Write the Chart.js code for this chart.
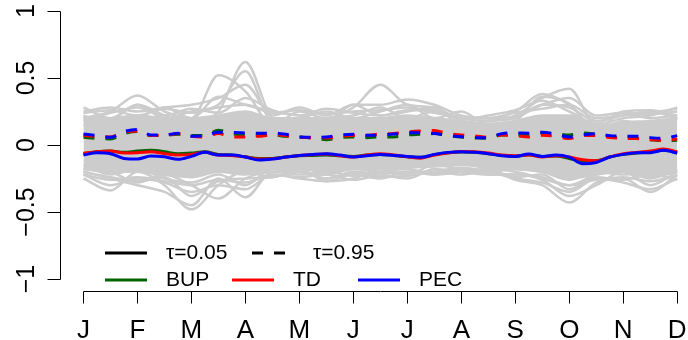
<!DOCTYPE html>
<html>
<head>
<meta charset="utf-8">
<script src="https://cdn.jsdelivr.net/npm/chart.js@4.4.0/dist/chart.umd.min.js"></script>
<style>
  html, body { margin: 0; padding: 0; background: #fff; }
  #wrap { width: 688px; height: 340px; }
</style>
</head>
<body>
<div id="wrap"><canvas id="myChart" width="688" height="340"></canvas></div>
<script>
// month axis
var monthLabels = ['J', 'F', 'M', 'A', 'M', 'J', 'J', 'A', 'S', 'O', 'N', 'D'];
var yTicks = [-1, -0.5, 0, 0.5, 1];
var yTickLabels = ['\u22121', '\u22120.5', '0', '0.5', '1'];

// sample positions (in months from J)
var fineX = [0, 0.25, 0.5, 0.75, 1, 1.25, 1.5, 1.75, 2, 2.25, 2.5, 2.75, 3, 3.25, 3.5, 3.75,
  4, 4.25, 4.5, 4.75, 5, 5.25, 5.5, 5.75, 6, 6.25, 6.5, 6.75, 7, 7.25, 7.5, 7.75,
  8, 8.25, 8.5, 8.75, 9, 9.25, 9.5, 9.75, 10, 10.25, 10.5, 10.75, 11];
var coarseX = [0, 0.5, 1, 1.5, 2, 2.5, 3, 3.5, 4, 4.5, 5, 5.5, 6, 6.5, 7, 7.5, 8, 8.5, 9, 9.5, 10, 10.5, 11];

// quantile curves, tau = 0.05
var bup05 = [-0.065, -0.05, -0.045, -0.055, -0.045, -0.04, -0.05, -0.065, -0.06, -0.05, -0.07, -0.075, -0.088, -0.1, -0.1, -0.09,
  -0.08, -0.078, -0.075, -0.08, -0.085, -0.075, -0.07, -0.078, -0.088, -0.092, -0.072, -0.058, -0.052, -0.055, -0.065, -0.078,
  -0.085, -0.072, -0.085, -0.082, -0.1, -0.12, -0.118, -0.09, -0.07, -0.06, -0.05, -0.04, -0.058];
var td05 = [-0.062, -0.05, -0.045, -0.06, -0.058, -0.05, -0.065, -0.075, -0.07, -0.055, -0.075, -0.078, -0.09, -0.105, -0.102, -0.09,
  -0.078, -0.072, -0.068, -0.08, -0.09, -0.075, -0.065, -0.075, -0.088, -0.098, -0.075, -0.06, -0.048, -0.05, -0.06, -0.075,
  -0.08, -0.075, -0.09, -0.08, -0.09, -0.11, -0.118, -0.09, -0.065, -0.055, -0.045, -0.03, -0.05];
var pec05 = [-0.075, -0.058, -0.065, -0.1, -0.105, -0.082, -0.088, -0.107, -0.085, -0.055, -0.075, -0.075, -0.09, -0.112, -0.105, -0.09,
  -0.078, -0.07, -0.065, -0.075, -0.09, -0.08, -0.07, -0.078, -0.085, -0.092, -0.07, -0.055, -0.05, -0.055, -0.065, -0.08,
  -0.085, -0.068, -0.085, -0.075, -0.09, -0.14, -0.13, -0.09, -0.07, -0.058, -0.057, -0.04, -0.06];

// quantile curves, tau = 0.95
var bup95 = [0.057, 0.05, 0.045, 0.085, 0.1, 0.07, 0.072, 0.08, 0.07, 0.07, 0.11, 0.085, 0.075, 0.07, 0.075, 0.065,
  0.06, 0.05, 0.04, 0.055, 0.06, 0.055, 0.06, 0.06, 0.075, 0.08, 0.085, 0.07, 0.06, 0.055, 0.05, 0.075,
  0.075, 0.08, 0.09, 0.085, 0.075, 0.09, 0.08, 0.065, 0.05, 0.05, 0.04, 0.032, 0.035];
var td95 = [0.07, 0.065, 0.06, 0.095, 0.105, 0.07, 0.07, 0.085, 0.065, 0.06, 0.085, 0.06, 0.06, 0.065, 0.075, 0.07,
  0.058, 0.055, 0.053, 0.065, 0.07, 0.072, 0.082, 0.085, 0.098, 0.105, 0.108, 0.085, 0.075, 0.068, 0.058, 0.075,
  0.07, 0.06, 0.072, 0.065, 0.048, 0.07, 0.07, 0.055, 0.05, 0.048, 0.04, 0.035, 0.045];
var pec95 = [0.082, 0.07, 0.057, 0.1, 0.115, 0.075, 0.075, 0.087, 0.065, 0.07, 0.095, 0.093, 0.09, 0.087, 0.09, 0.08,
  0.06, 0.058, 0.06, 0.075, 0.08, 0.072, 0.075, 0.082, 0.09, 0.092, 0.085, 0.072, 0.062, 0.055, 0.055, 0.085,
  0.09, 0.088, 0.095, 0.08, 0.06, 0.075, 0.085, 0.07, 0.065, 0.065, 0.055, 0.05, 0.07];

// dense core of the observed curves
var coreUpper = [0.2, 0.2, 0.22, 0.2, 0.2, 0.22, 0.25, 0.2, 0.2, 0.2, 0.2, 0.2, 0.22, 0.2, 0.18, 0.16, 0.18, 0.22, 0.22, 0.14, 0.17, 0.18, 0.2];
var coreLower = [-0.18, -0.2, -0.2, -0.22, -0.24, -0.2, -0.22, -0.18, -0.18, -0.2, -0.18, -0.18, -0.17, -0.16, -0.15, -0.17, -0.18, -0.2, -0.25, -0.22, -0.2, -0.24, -0.2];

// outer observed curves
var obsCurves = [
  [0.28, 0.2, 0.3, 0.22, 0.15, 0.25, 0.62, 0.2, 0.15, 0.2, 0.22, 0.28, 0.2, 0.25, 0.2, 0.18, 0.22, 0.35, 0.42, 0.15, 0.2, 0.22, 0.28],
  [0.2, 0.25, 0.37, 0.25, 0.2, 0.52, 0.4, 0.15, 0.25, 0.2, 0.28, 0.45, 0.3, 0.28, 0.2, 0.2, 0.25, 0.38, 0.3, 0.12, 0.24, 0.2, 0.22],
  [0.25, 0.28, 0.25, 0.28, 0.3, 0.35, 0.45, 0.22, 0.28, 0.22, 0.3, 0.3, 0.34, 0.3, 0.22, 0.2, 0.21, 0.3, 0.35, 0.22, 0.24, 0.23, 0.25],
  [0.15, 0.18, 0.3, 0.2, 0.25, 0.3, 0.55, 0.18, 0.2, 0.25, 0.2, 0.25, 0.3, 0.2, 0.25, 0.15, 0.18, 0.36, 0.31, 0.1, 0.18, 0.15, 0.2],
  [0.22, 0.15, 0.2, 0.28, 0.2, 0.36, 0.3, 0.25, 0.22, 0.18, 0.3, 0.22, 0.25, 0.28, 0.15, 0.18, 0.2, 0.3, 0.28, 0.18, 0.22, 0.25, 0.2],
  [0.24, 0.26, 0.22, 0.27, 0.24, 0.28, 0.3, 0.24, 0.26, 0.23, 0.25, 0.26, 0.28, 0.24, 0.21, 0.2, 0.24, 0.27, 0.3, 0.2, 0.22, 0.24, 0.27],
  [0.18, 0.24, 0.28, 0.22, 0.27, 0.24, 0.35, 0.26, 0.22, 0.27, 0.24, 0.22, 0.26, 0.26, 0.19, 0.22, 0.26, 0.33, 0.25, 0.16, 0.25, 0.26, 0.22],
  [-0.25, -0.34, -0.2, -0.3, -0.48, -0.3, -0.2, -0.24, -0.18, -0.27, -0.22, -0.25, -0.2, -0.2, -0.2, -0.18, -0.26, -0.3, -0.43, -0.28, -0.25, -0.35, -0.22],
  [-0.2, -0.25, -0.3, -0.35, -0.45, -0.25, -0.39, -0.2, -0.2, -0.25, -0.2, -0.22, -0.25, -0.18, -0.2, -0.22, -0.22, -0.26, -0.38, -0.3, -0.2, -0.3, -0.2],
  [-0.22, -0.3, -0.25, -0.28, -0.35, -0.3, -0.33, -0.22, -0.25, -0.27, -0.25, -0.18, -0.22, -0.2, -0.17, -0.2, -0.25, -0.28, -0.35, -0.25, -0.28, -0.33, -0.25],
  [-0.18, -0.2, -0.28, -0.22, -0.3, -0.4, -0.25, -0.2, -0.22, -0.2, -0.23, -0.2, -0.18, -0.22, -0.2, -0.18, -0.2, -0.25, -0.3, -0.22, -0.2, -0.25, -0.18],
  [-0.15, -0.22, -0.18, -0.25, -0.28, -0.22, -0.3, -0.18, -0.2, -0.22, -0.18, -0.2, -0.22, -0.15, -0.18, -0.2, -0.18, -0.2, -0.26, -0.2, -0.22, -0.2, -0.2],
  [-0.22, -0.26, -0.24, -0.27, -0.3, -0.26, -0.28, -0.22, -0.24, -0.22, -0.26, -0.22, -0.2, -0.22, -0.18, -0.22, -0.22, -0.24, -0.3, -0.26, -0.24, -0.27, -0.23],
  [-0.2, -0.24, -0.27, -0.24, -0.38, -0.27, -0.25, -0.24, -0.2, -0.25, -0.21, -0.24, -0.23, -0.2, -0.22, -0.19, -0.24, -0.22, -0.33, -0.24, -0.26, -0.22, -0.26]
];

var methodNames = ['BUP', 'TD', 'PEC'];
var methodColors = ['#006400', '#ff0000', '#0000ff'];
var tauNames = ['\u03c4=0.05', '\u03c4=0.95'];

var FONT = '"Liberation Sans", Arial, Helvetica, sans-serif';
var GRAY = '#cccccc';

function pts(xs, ys) {
  return ys.map(function(v, i) { return { x: xs[i], y: v }; });
}

var datasets = [];
obsCurves.forEach(function(c) {
  datasets.push({ data: pts(coarseX, c), borderColor: GRAY, borderWidth: 2.5, order: 20 });
});
datasets.push({ data: pts(coarseX, coreUpper), borderColor: GRAY, borderWidth: 2.5, backgroundColor: GRAY, fill: '+1', order: 19 });
datasets.push({ data: pts(coarseX, coreLower), borderColor: GRAY, borderWidth: 2.5, order: 19 });

var lo = [bup05, td05, pec05];
var hi = [bup95, td95, pec95];
for (var k = 0; k < 3; k++) {
  datasets.push({ label: methodNames[k] + ' ' + tauNames[0], data: pts(fineX, lo[k]), borderColor: methodColors[k], borderWidth: 3, order: 3 - k });
  datasets.push({ label: methodNames[k] + ' ' + tauNames[1], data: pts(fineX, hi[k]), borderColor: methodColors[k], borderWidth: 3, borderDash: [11, 11], order: 3 - k });
}

// R style axes + legend
var rAxes = {
  id: 'rAxes',
  afterDraw: function(chart) {
    var c = chart.ctx;
    var xs = chart.scales.x, ys = chart.scales.y;
    c.save();
    c.strokeStyle = '#000';
    c.fillStyle = '#000';
    c.lineWidth = 1;
    // y axis
    var ax = 60.5;
    c.beginPath();
    c.moveTo(ax, Math.round(ys.getPixelForValue(yTicks[0])) + 0.5);
    c.lineTo(ax, Math.round(ys.getPixelForValue(yTicks[yTicks.length - 1])) + 0.5);
    yTicks.forEach(function(t) {
      var py = Math.round(ys.getPixelForValue(t)) + 0.5;
      c.moveTo(ax, py);
      c.lineTo(ax - 13, py);
    });
    c.stroke();
    c.font = '25px ' + FONT;
    c.textAlign = 'center';
    c.textBaseline = 'middle';
    yTicks.forEach(function(t, i) {
      var py = ys.getPixelForValue(t);
      c.save();
      c.translate(27, py);
      c.rotate(-Math.PI / 2);
      c.fillText(yTickLabels[i], 0, 0);
      c.restore();
    });
    // x axis
    var ay = 291.5;
    c.beginPath();
    c.moveTo(Math.round(xs.getPixelForValue(0)) + 0.5, ay);
    c.lineTo(Math.round(xs.getPixelForValue(monthLabels.length - 1)) + 0.5, ay);
    monthLabels.forEach(function(m, i) {
      var px = Math.round(xs.getPixelForValue(i)) + 0.5;
      c.moveTo(px, ay);
      c.lineTo(px, ay + 12);
    });
    c.stroke();
    c.font = '26px ' + FONT;
    c.textBaseline = 'alphabetic';
    monthLabels.forEach(function(m, i) {
      c.fillText(m, xs.getPixelForValue(i), 338);
    });

    // legend
    c.font = '21px ' + FONT;
    c.textAlign = 'left';
    c.textBaseline = 'middle';
    c.lineWidth = 3;
    var r1 = 253, r2 = 280;
    c.strokeStyle = '#000';
    c.beginPath(); c.moveTo(105, r1); c.lineTo(147, r1); c.stroke();
    c.fillText(tauNames[0], 166, r1);
    c.setLineDash([11, 11]);
    c.beginPath(); c.moveTo(252, r1); c.lineTo(286, r1); c.stroke();
    c.setLineDash([]);
    c.fillText(tauNames[1], 313, r1);
    var lx = [105, 232, 358];
    methodNames.forEach(function(n, i) {
      c.strokeStyle = methodColors[i];
      c.beginPath(); c.moveTo(lx[i], r2); c.lineTo(lx[i] + 42, r2); c.stroke();
      c.fillText(n, lx[i] + 61, r2);
    });
    c.restore();
  }
};

var ctx = document.getElementById('myChart').getContext('2d');
var myChart = new Chart(ctx, {
  type: 'line',
  data: { datasets: datasets },
  options: {
    responsive: false,
    animation: false,
    layout: { padding: { left: 60, right: 0, top: 0, bottom: 50 } },
    elements: {
      point: { radius: 0 },
      line: { cubicInterpolationMode: 'monotone', fill: false, borderCapStyle: 'butt' }
    },
    scales: {
      x: { type: 'linear', min: -0.435, max: 11.2, display: false },
      y: { type: 'linear', min: -1.082, max: 1.082, display: false }
    },
    plugins: { legend: { display: false }, tooltip: { enabled: false } }
  },
  plugins: [rAxes]
});
</script>
</body>
</html>
